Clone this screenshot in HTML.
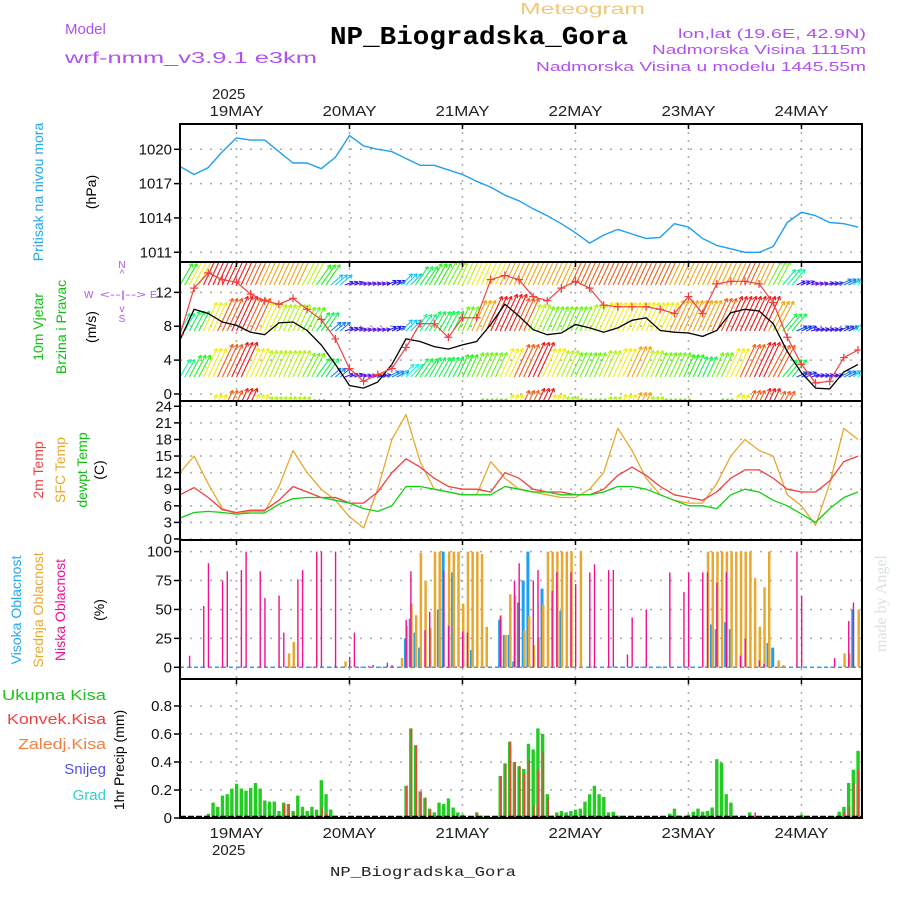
<!DOCTYPE html>
<html><head><meta charset="utf-8"><style>
html,body{margin:0;padding:0;background:#fff}
svg{display:block;font-family:"Liberation Sans",sans-serif}
</style></head><body>
<svg id="chart" width="900" height="900" viewBox="0 0 900 900" xmlns="http://www.w3.org/2000/svg">
<defs>
<clipPath id="clipWind"><rect x="180" y="262" width="682" height="139"/></clipPath>
<clipPath id="clipAll"><rect x="180" y="124" width="682" height="694"/></clipPath>
</defs>
<rect x="0" y="0" width="900" height="900" fill="#fff"/>
<!-- header -->
<text x="65" y="34" font-size="15" fill="#b050f0">Model</text>
<text x="65" y="63" font-size="16" fill="#b050f0" textLength="252" lengthAdjust="spacingAndGlyphs">wrf-nmm_v3.9.1 e3km</text>
<text x="520" y="14" font-size="16" fill="#f0c878" textLength="125" lengthAdjust="spacingAndGlyphs">Meteogram</text>
<text x="330" y="44" font-size="26" font-weight="bold" font-family="Liberation Mono, monospace" fill="#000" textLength="298" lengthAdjust="spacingAndGlyphs">NP_Biogradska_Gora</text>
<text x="866" y="38" font-size="13" fill="#b050f0" text-anchor="end" textLength="188" lengthAdjust="spacingAndGlyphs">lon,lat (19.6E, 42.9N)</text>
<text x="866" y="54" font-size="13" fill="#b050f0" text-anchor="end" textLength="214" lengthAdjust="spacingAndGlyphs">Nadmorska Visina 1115m</text>
<text x="866" y="71" font-size="13" fill="#b050f0" text-anchor="end" textLength="330" lengthAdjust="spacingAndGlyphs">Nadmorska Visina u modelu 1445.55m</text>
<text x="212" y="99" font-size="15" fill="#222">2025</text>
<text x="330" y="876" font-size="14" font-family="Liberation Mono, monospace" fill="#222" textLength="186" lengthAdjust="spacingAndGlyphs">NP_Biogradska_Gora</text>
<text x="212" y="855" font-size="15" fill="#222">2025</text>
<text transform="translate(886,652) rotate(-90)" font-size="16" font-family="Liberation Serif, serif" fill="#d8e4d8">made by Angel</text>

<!-- left axis titles -->
<text transform="translate(43,192) rotate(-90)" text-anchor="middle" font-size="14" fill="#20a8f0">Pritisak na nivou mora</text>
<text transform="translate(96,192) rotate(-90)" text-anchor="middle" font-size="14" fill="#000">(hPa)</text>
<text transform="translate(43,327) rotate(-90)" text-anchor="middle" font-size="14" fill="#10c010">10m Vjetar</text>
<text transform="translate(66,327) rotate(-90)" text-anchor="middle" font-size="14" fill="#10c010">Brzina i Pravac</text>
<text transform="translate(96,327) rotate(-90)" text-anchor="middle" font-size="14" fill="#000">(m/s)</text>
<g fill="#b050f0" font-size="10">
<text x="122" y="268" text-anchor="middle">N</text><text x="122" y="277" text-anchor="middle">^</text>
<text x="84" y="298">W</text><text x="100" y="298" textLength="46" lengthAdjust="spacingAndGlyphs">&lt;--|--&gt;</text><text x="150" y="298">E</text>
<text x="122" y="312" text-anchor="middle">v</text><text x="122" y="322" text-anchor="middle">S</text>
</g>
<text transform="translate(43,470) rotate(-90)" text-anchor="middle" font-size="14" fill="#f04040">2m Temp</text>
<text transform="translate(65,470) rotate(-90)" text-anchor="middle" font-size="14" fill="#e8a830">SFC Temp</text>
<text transform="translate(87,470) rotate(-90)" text-anchor="middle" font-size="14" fill="#10c010">dewpt Temp</text>
<text transform="translate(104,470) rotate(-90)" text-anchor="middle" font-size="14" fill="#000">(C)</text>
<text transform="translate(21,610) rotate(-90)" text-anchor="middle" font-size="14" fill="#20a8f0">Visoka Oblacnost</text>
<text transform="translate(43,610) rotate(-90)" text-anchor="middle" font-size="14" fill="#e8a830">Srednja Oblacnost</text>
<text transform="translate(65,610) rotate(-90)" text-anchor="middle" font-size="14" fill="#f01090">Niska Oblacnost</text>
<text transform="translate(104,610) rotate(-90)" text-anchor="middle" font-size="14" fill="#000">(%)</text>
<text x="106" y="700" text-anchor="end" font-size="15" fill="#20c020" textLength="104" lengthAdjust="spacingAndGlyphs">Ukupna  Kisa</text>
<text x="106" y="724" text-anchor="end" font-size="15" fill="#f04040" textLength="99" lengthAdjust="spacingAndGlyphs">Konvek.Kisa</text>
<text x="106" y="749" text-anchor="end" font-size="15" fill="#f08040" textLength="88" lengthAdjust="spacingAndGlyphs">Zaledj.Kisa</text>
<text x="106" y="774" text-anchor="end" font-size="15" fill="#5050f0">Snijeg</text>
<text x="106" y="800" text-anchor="end" font-size="15" fill="#30d0d0">Grad</text>
<text transform="translate(124,760) rotate(-90)" text-anchor="middle" font-size="14" fill="#000">1hr Precip (mm)</text>

<g id="grid"></g>
<g id="marks" clip-path="url(#clipAll)"></g>
<g id="wind" clip-path="url(#clipWind)"></g>
<g id="frames"></g>
<g id="labels"></g>
</svg>
<script>
// ---------- data ----------
const dayLabels = ["19MAY","20MAY","21MAY","22MAY","23MAY","24MAY"];
const pressTicks = [1020,1017,1014,1011];
const windTicks = [0,4,8,12];
const tempTicks = [0,3,6,9,12,15,18,21,24];
const cloudTicks = [0,25,50,75,100];
const precipTicks = ["0","0.2","0.4","0.6","0.8"];
// 3-hourly series (index k -> hour 3k from 18MAY 12UTC)
const pressure = [1018.5,1017.8,1018.4,1019.8,1021,1020.8,1020.8,1019.8,1018.8,1018.8,1018.3,1019.3,1021.2,1020.3,1020,1019.8,1019.2,1018.6,1018.6,1018.2,1017.8,1017.2,1016.7,1016,1015.5,1014.8,1014.2,1013.5,1012.7,1011.8,1012.5,1013,1012.6,1012.2,1012.3,1013.5,1013.2,1012.2,1011.6,1011.3,1011,1011,1011.5,1013.6,1014.5,1014.2,1013.6,1013.5,1013.2];
const windSpeed = [6.4,10,9.5,8.5,8.1,7.3,7,8.4,8.5,7.5,5.8,3.5,1,0.7,1.4,3.5,6.5,6.2,5.6,5.3,5.8,6.2,8.2,10.6,9.2,7.6,7,7.2,8.2,7.8,7.3,7.8,8.7,9,7.5,7.3,7.2,6.8,7.5,9.6,10,9.8,8.3,5,2.5,0.7,0.6,2.6,3.5];
const windGust = [7,12.5,14.3,13.5,13.2,11.8,11,10.6,11.3,10,8.8,6.5,3,1.5,2.3,3,5.5,8.3,8.3,6.7,9,9,13.5,14,13.5,11.5,11,12.5,13.3,12.5,10.5,10.3,10.3,10.3,10,9.5,11.5,9.5,13,13.3,13.3,13,10.8,6.7,3.5,1.3,1.5,4.3,5.2];
const windLevel1 = [9,11,14,16,17,14,13,13,13,12,10,6,4,3.5,4,6,8,10,10,10,11,12,12,14,16,17,14,13,12,12,13,14,15,13,12,12,11,10,12,14,16,17,16,10,5,4,4,6,8];
const windLevel2 = [9,10,14,16,17,16,14,13,13,12,10,6,4,3.5,3.5,4.5,7,9,10,10,12,15,17,18,16,13,12,12,12,13,14,14,14,14,14,15,15,15,16,17,17,17,15,10,5,4,4,5,8];
const windLevel3 = [11,14,17,17,17,16,15,15,15,13,11,7,4,3.5,3.5,4.5,7,10,11,12,13,14,14,15,15,15,15,15,16,16,16,16,16,16,16,15,15,15,15,15,16,15,12,9,4,3.5,4,6,8];
const windDir = [60,62,65,65,65,65,65,65,65,62,55,40,20,15,15,25,45,55,60,62,65,65,65,65,65,65,65,65,65,65,65,65,65,65,65,65,65,65,65,65,65,65,62,50,25,15,15,25,40];
const temp2m = [8,9.3,7.5,5.3,4.8,5.2,5.2,7,9.5,8.5,7.5,7.5,6.5,6.5,8.5,12,14.5,13,11,9.5,9,9,8.5,12,11,9,8.5,8.5,8,8,9,11.5,13,11.5,9.5,8,7.5,7,8.5,11,12.5,12.5,11,9,8.5,8.5,10.5,14,15];
const tempSfc = [12,15,10,5.5,4.5,5,5,9.5,16,12,9,7,4,2,9,18,22.5,14,9,8.5,8,8,14,11,9,8.5,8,7.5,7.5,9,12,20,16,11,8,7,6.5,6.5,10,15,18,16,15,8,6,2.5,10,20,18];
const tempDew = [3.8,4.8,5,4.8,4.5,4.7,4.7,6.3,7.3,7.5,7.5,7,6.5,5.5,5,6,9.5,9.5,9,8.5,8,8,8,9.5,9,8.5,8.5,8,8,8,8.5,9.5,9.5,9,8,7,6,6,5.5,8,9,8.5,7,6,4.5,3,5.5,7.5,8.5];
// hourly cloud cover (hour index, percent)
const lowHours = [2,5,6,9,10,13,14,17,18,21,22,25,26,29,30,33,36,37,40,41,44,45,48,49,52,53,56,57,60,61,68,71,72,75,76,79,80,83,84,87,88,91,92,95,96,99,104,107,108,111,112,114,116,119,120,123,124,131,132,139,142,143];
const lowVals  = [10,53,90,75,83,84,100,83,60,62,30,76,84,100,100,100,9,30,1,2,4,2,41,83,32,48,83,36,31,30,44,75,90,75,84,66,82,82,72,82,89,84,84,11,43,50,82,65,82,82,82,73,82,10,25,6,3,100,62,8,40,56];
const midHours = [23,24,35,47,48,49,50,51,52,53,54,55,57,58,59,60,61,62,63,64,65,68,69,70,71,73,74,75,76,77,78,79,80,81,82,83,85,112,113,114,115,116,117,118,119,120,121,122,123,124,125,127,128,141,142,144];
const midVals  = [12,22,5,8,36,55,45,99,75,34,100,100,100,100,100,55,100,100,100,98,35,45,28,63,62,32,44,19,26,54,100,100,100,100,100,100,100,100,100,100,100,100,100,100,100,100,100,77,35,69,100,6,2,12,12,50];
const highHours = [48,49,50,51,55,56,58,62,68,69,70,71,72,73,74,77,81,113,114,116,117,125,126,143];
const highVals  = [25,42,30,17,50,100,82,15,41,28,28,5,56,75,100,68,49,37,33,39,33,21,17,50];
// hourly precipitation (mm), hour 0..145
const precipTotal = [0,0,0,0,0,0,.03,.11,.08,.16,.17,.21,.245,.21,.195,.215,.25,.21,.125,.117,.117,.05,.11,.10,.05,.16,.08,.05,.08,.06,.27,.17,.06,.015,0,0,0,0,0,0,0,0,0,0,0,0,0,.01,.23,.64,.52,.19,.145,.067,.04,.11,.10,.14,.075,.04,.025,0,0,.04,.017,0,0,0,.30,.39,.545,.40,.37,.35,.53,.49,.64,.60,.17,.017,.04,.05,.04,.05,.06,.067,.117,.17,.23,.17,.15,.04,.045,.017,0,0,0,0,0,0,0,0,0,0,.03,.067,.017,.01,.025,.045,.067,.045,.05,.075,.42,.395,.17,.11,.017,0,0,.04,0,0,0,0,0,0,0,0,0,.01,.025,0,0,0,0,0,0,.01,.045,.08,.25,.345,.48,.35];
const precipConv = [0,0,0,0,0,0,0,0,0,0,0,0,0,0,0,0,0,0,0,0,0,.01,.1,.1,.04,0,0,0,0,0,.07,.03,0,0,0,0,0,0,0,0,0,0,0,0,0,0,0,.01,.23,.64,.52,.19,.145,.06,0,0,0,0,0,0,0,0,0,.04,0,0,0,0,.30,.39,.545,.40,.37,.32,.41,.09,.345,.47,.14,.017,0,0,0,0,0,0,0,0,0,0,0,0,0,0,0,0,0,0,0,0,0,0,0,0,0,0,0,0,0,0,0,0,0,0,0,0,0,0,0,0,0,0,.04,0,0,0,0,0,0,0,0,0,0,0,0,0,0,0,0,0,.01,.045,.08,.25,.345,.48,.35];

// ---------- scales ----------
const X0=180, X1=862, PXH=4.708, DAY0X=180+12*PXH;
const xH = h => X0 + h*PXH;
const xK = k => xH(3*k);
const yP = p => 149.3 + (1020-p)*11.44;
const yW = v => 394 - v*8.47;
const yT = t => 539 - t*5.53;
const yC = c => 667.3 - c*1.157;
const yR = r => 818 - r*140;
const panels = [[124,262],[262,401],[401,540],[540,679],[679,818]];
const NS='http://www.w3.org/2000/svg';
function mk(tag, attrs, parent){const e=document.createElementNS(NS,tag);for(const k in attrs)e.setAttribute(k,attrs[k]);parent.appendChild(e);return e;}
const grid=document.getElementById('grid'), marks=document.getElementById('marks'), wind=document.getElementById('wind'), frames=document.getElementById('frames'), labels=document.getElementById('labels');

function hTicks(vals, yf, name){
  vals.forEach(v=>{
    const y=yf(typeof v==='string'?parseFloat(v):v);
    const g=mk('line',{x1:X0,x2:X1,y1:y,y2:y,stroke:'#aaa','stroke-width':1.5,'stroke-dasharray':'2,8'},grid);
    
    
    const tk=mk('line',{x1:X0-6,x2:X0,y1:y,y2:y,stroke:'#000','stroke-width':1.5},frames);
    
    
    const t=mk('text',{x:172,y:y+5,'text-anchor':'end','font-size':15,fill:'#111'},labels);
    t.textContent=String(v);
    
    
  });
}
hTicks(pressTicks,yP,'pressure-axis');
hTicks(windTicks,yW,'wind-axis');
hTicks(tempTicks,yT,'temp-axis');
hTicks(cloudTicks,yC,'cloud-axis');
hTicks(precipTicks,yR,'precip-axis');

dayLabels.forEach((d,i)=>{
  const x=DAY0X+i*24*PXH;
  const l=mk('line',{x1:x,x2:x,y1:124,y2:818,stroke:'#aaa','stroke-width':1.5,'stroke-dasharray':'2,6'},grid);
  
  
  panels.forEach(p=>{
    const t1=mk('line',{x1:x,x2:x,y1:p[0],y2:p[0]+5,stroke:'#000','stroke-width':1.5},frames);
    
    
  });
  const tt=mk('text',{x:x,y:116,'text-anchor':'middle','font-size':15,fill:'#222',textLength:54,lengthAdjust:'spacingAndGlyphs'},labels);
  tt.textContent=d;
  
  
  const tb=mk('text',{x:x,y:838,'text-anchor':'middle','font-size':15,fill:'#222',textLength:54,lengthAdjust:'spacingAndGlyphs'},labels);
  tb.textContent=d;
  
  
});

panels.forEach((p,i)=>{
  const r=mk('rect',{x:X0,y:p[0],width:X1-X0,height:p[1]-p[0],fill:'none',stroke:'#000','stroke-width':2},frames);
  
  
});

function line(arr, xf, yf, color, name, w){
  const pts=arr.map((v,k)=>xf(k).toFixed(1)+','+yf(v).toFixed(1)).join(' ');
  const pl=mk('polyline',{points:pts,fill:'none',stroke:color,'stroke-width':w||1.3,'stroke-linejoin':'round'},marks);
  
  
  return pl;
}
line(pressure,xK,yP,'#1ea0f0','pressure-line',1.4);

function hue(s){let h=270*(1-(s-3)/14);return Math.max(0,Math.min(275,h));}
const levels=[[windLevel1,377],[windLevel2,331],[windLevel3,285],[windLevel1,423]];
levels.forEach((lv)=>{
  const arr=lv[0], base=lv[1];
  for(let h=0;h<=145;h++){
    const k=Math.min(48,Math.round(h/3));
    const s=arr[k], a=windDir[k]*Math.PI/180, L=s*2.25;
    const x=xH(h), dx=L*Math.cos(a), dy=-L*Math.sin(a);
    const col='hsl('+hue(s)+',90%,52%)';
    const g=mk('g',{stroke:col,'stroke-width':1.1,fill:'none'},wind);
    
    
    mk('line',{x1:x,y1:base,x2:x+dx,y2:base+dy},g);
    const ang=Math.atan2(dy,dx);
    [2.6,-2.6].forEach(o=>{
      mk('line',{x1:x+dx,y1:base+dy,x2:x+dx-4*Math.cos(ang+o*0.2),y2:base+dy-4*Math.sin(ang+o*0.2)},g);
    });
  }
});
{
  const ptsS=windSpeed.map((v,k)=>xK(k).toFixed(1)+','+yW(v).toFixed(1)).join(' ');
  const s=mk('polyline',{points:ptsS,fill:'none',stroke:'#000','stroke-width':1.3},wind);
  
  
  const ptsG=windGust.map((v,k)=>xK(k).toFixed(1)+','+yW(v).toFixed(1)).join(' ');
  const g=mk('polyline',{points:ptsG,fill:'none',stroke:'#f04040','stroke-width':1.2},wind);
  
  
  windGust.forEach((v,k)=>{
    const x=xK(k), y=yW(v);
    const m=mk('path',{d:'M'+(x-4)+','+y+'h8M'+x+','+(y-4)+'v8',stroke:'#f04040','stroke-width':1.2},wind);
    
    
  });
}

line(tempSfc,xK,yT,'#e8a830','sfc-temp-line',1.3);
line(temp2m,xK,yT,'#f04040','temp2m-line',1.3);
line(tempDew,xK,yT,'#10d010','dewpoint-line',1.3);

{
  const b1=mk('line',{x1:X0,x2:X1,y1:yC(0),y2:yC(0),stroke:'#20a8f0','stroke-width':1.5,'stroke-dasharray':'4,3'},marks);
  
  
}
highHours.forEach((h,i)=>{
  const x=xH(h), y=yC(highVals[i]);
  const r=mk('rect',{x:x-2,y:y,width:3,height:yC(0)-y,fill:'#1ea0f0'},marks);
  
  
});
midHours.forEach((h,i)=>{
  const x=xH(h), y=yC(midVals[i]);
  const r=mk('rect',{x:x-0.5,y:y,width:2.5,height:yC(0)-y,fill:'#e8a830'},marks);
  
  
});
lowHours.forEach((h,i)=>{
  const x=xH(h), y=yC(lowVals[i]);
  const r=mk('rect',{x:x-0.5,y:y,width:1.4,height:yC(0)-y,fill:'#f01090'},marks);
  
  
});

precipTotal.forEach((v,h)=>{
  if(v<=0) return;
  const x=xH(h), y=yR(v);
  const r=mk('rect',{x:x-1.6,y:y,width:3.4,height:yR(0)-y,fill:'#22cc22'},marks);
  
  
});
precipConv.forEach((v,h)=>{
  if(v<=0) return;
  const x=xH(h), y=yR(v);
  const r=mk('rect',{x:x,y:y,width:1.6,height:yR(0)-y,fill:'#f04040'},marks);
  
  
});
{
  const b=mk('line',{x1:X0,x2:X1,y1:817,y2:817,stroke:'#000','stroke-width':2.5,'stroke-dasharray':'6,2'},frames);
  
  
}
</script>
</body></html>
